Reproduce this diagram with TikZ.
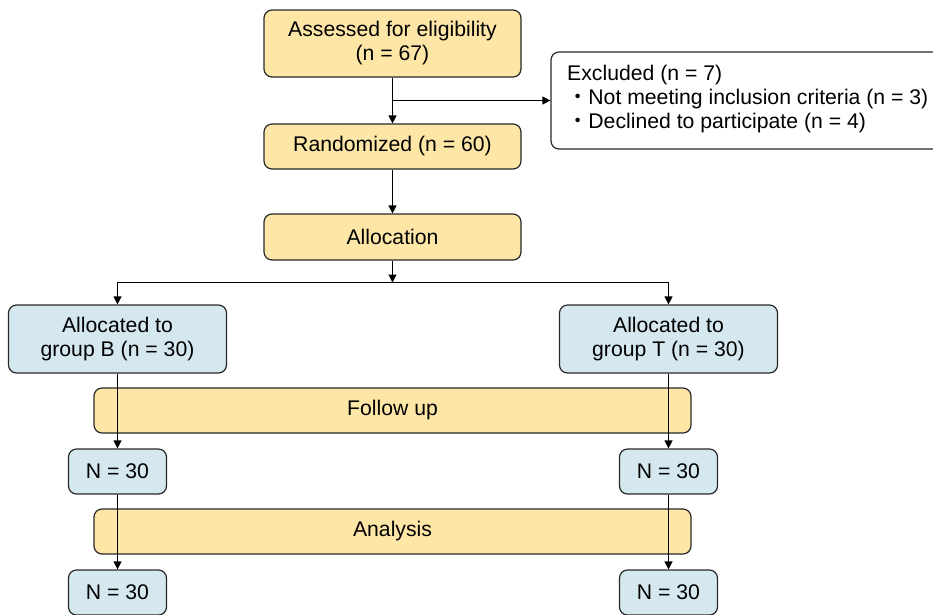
\documentclass[tikz,border=0pt]{standalone}
\usepackage{fontspec}
\setmainfont{Liberation Sans}
\newfontfamily\cjk{Noto Sans CJK JP}
\usetikzlibrary{arrows.meta}
\definecolor{boxyellow}{RGB}{253,230,166}
\definecolor{boxblue}{RGB}{213,232,240}
\definecolor{edge}{RGB}{40,40,40}
\begin{document}
\begin{tikzpicture}[x=1pt,y=-1pt,
  base/.style={draw=edge,line width=1.2pt,rounded corners=8pt,align=center,
    font=\fontsize{21.2}{24}\selectfont,inner sep=0pt},
  ybox/.style={base,fill=boxyellow},
  bbox/.style={base,fill=boxblue},
  wbox/.style={base,fill=white},
  arr/.style={line width=1.2pt,draw=black,-{Triangle[length=8pt,width=8pt]}}]
\useasboundingbox (0,0) rectangle (933,614);
\node[ybox,minimum width=257pt,minimum height=67pt] (assess) at (392.5,43.5) {Assessed for eligibility\\(n = 67)};
\node[ybox,minimum width=257pt,minimum height=45pt] (rand) at (392.5,146.5) {Randomized (n = 60)};
\node[wbox,minimum width=400pt,minimum height=97pt] (excl) at (751,100.5) {};
\node[anchor=west,align=left,inner sep=0pt,font=\fontsize{21.2}{24}\selectfont] (excltext) at (567,99.5)
  {Excluded (n = 7)\\{\cjk ・}Not meeting inclusion criteria (n = 3)\\{\cjk ・}Declined to participate (n = 4)};
\node[ybox,minimum width=257pt,minimum height=46pt] (alloc) at (392.5,237) {Allocation};
\node[bbox,minimum width=218pt,minimum height=68pt] (gB) at (117.5,339) {Allocated to\\group B (n = 30)};
\node[bbox,minimum width=218pt,minimum height=68pt] (gT) at (668.5,339) {Allocated to\\group T (n = 30)};
\node[ybox,minimum width=597pt,minimum height=45pt] (follow) at (392.5,410.5) {Follow up};
\node[bbox,minimum width=98pt,minimum height=45pt] (nB1) at (117.5,471.5) {N = 30};
\node[bbox,minimum width=98pt,minimum height=45pt] (nT1) at (668.5,471.5) {N = 30};
\node[ybox,minimum width=597pt,minimum height=45pt] (analysis) at (392.5,531.5) {Analysis};
\node[bbox,minimum width=98pt,minimum height=45pt] (nB2) at (117.5,592.5) {N = 30};
\node[bbox,minimum width=98pt,minimum height=45pt] (nT2) at (668.5,592.5) {N = 30};
\coordinate (br) at (392.5,100.5);
\coordinate (split) at (392.5,282.5);
\draw[arr] (assess.south) -- (rand.north);
\draw[arr] (br) -- (br -| excl.west);
\draw[arr] (rand.south) -- (alloc.north);
\draw[arr] (alloc.south) -- (split);
\draw[arr] (split) -| (gB.north);
\draw[arr] (split) -| (gT.north);
\draw[arr] (gB.south) -- (nB1.north);
\draw[arr] (gT.south) -- (nT1.north);
\draw[arr] (nB1.south) -- (nB2.north);
\draw[arr] (nT1.south) -- (nT2.north);
\end{tikzpicture}
\end{document}
